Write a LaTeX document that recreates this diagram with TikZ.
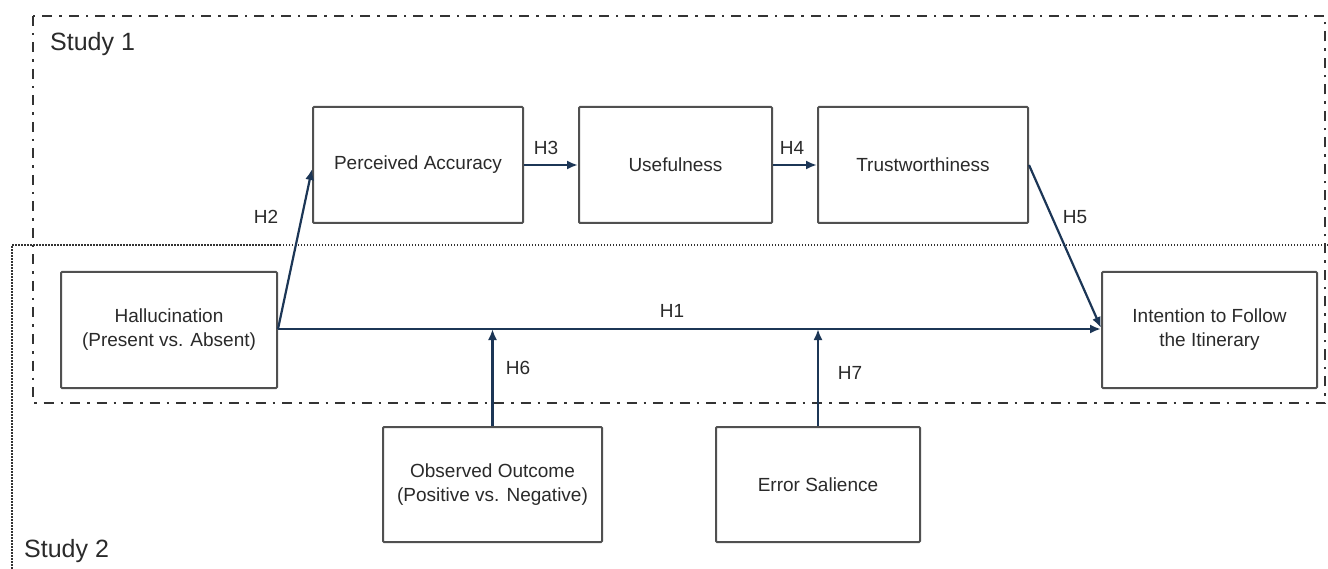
\documentclass[tikz,border=0pt]{standalone}
\usepackage{fontspec}
\setmainfont{Liberation Sans}
\usetikzlibrary{arrows.meta}
\definecolor{boxline}{HTML}{505050}
\definecolor{txt}{HTML}{2A2A2A}
\definecolor{arrowc}{HTML}{1C3656}
\definecolor{frame}{HTML}{333333}
\tikzset{
  varbox/.style={draw=boxline, line width=2pt, fill=white, rounded corners=1pt,
    inner sep=0pt, align=center, text=txt,
    font=\fontsize{19}{24}\selectfont},
  hyparrow/.style={draw=arrowc, line width=2.2pt, -{Latex[length=11pt,width=9pt]}},
  hyplabel/.style={text=txt, font=\fontsize{19}{22}\selectfont, inner sep=0pt},
  studylabel/.style={text=txt, font=\fontsize{25}{28}\selectfont, inner sep=0pt, anchor=west},
  frameone/.style={draw=frame, line width=2.8pt, dash pattern=on 10pt off 7pt on 2.5pt off 7pt},
  frametwo/.style={draw=frame, line width=2.4pt, dash pattern=on 1.5pt off 1.5pt}
}
\begin{document}
\begin{tikzpicture}[x=1pt,y=-1pt]
\useasboundingbox (0,0) rectangle (1328,569);

% Study frames
\draw[frametwo] (1340,245) -- (12,245) -- (12,585);
\draw[frameone] (33,16) rectangle (1325,403);
\node[studylabel] (s1) at (50,44) {Study 1};
\node[studylabel] (s2) at (24,551) {Study 2};

% Constructs
\node[varbox, minimum width=216pt, minimum height=116pt] (hal) at (169,330) {Hallucination\\(Present vs. Absent)};
\node[varbox, minimum width=210pt, minimum height=116pt] (pa) at (418,165) {Perceived Accuracy};
\node[varbox, minimum width=193pt, minimum height=116pt] (use) at (675.5,165) {Usefulness};
\node[varbox, minimum width=210pt, minimum height=116pt] (tw) at (923,165) {Trustworthiness};
\node[varbox, minimum width=215pt, minimum height=116pt] (int) at (1209.5,330) {Intention to Follow\\the Itinerary};
\node[varbox, minimum width=219pt, minimum height=115pt] (obs) at (492.5,484.5) {Observed Outcome\\(Positive vs. Negative)};
\node[varbox, minimum width=204pt, minimum height=115pt] (err) at (818,484.5) {Error Salience};

% Hypothesised paths
\draw[hyparrow] ([yshift=1pt]hal.east) -- ([yshift=1pt]int.west);
\draw[hyparrow] ([yshift=1pt]hal.east) -- ([yshift=-4pt]pa.west);
\draw[hyparrow] (pa.east) -- (use.west);
\draw[hyparrow] (use.east) -- (tw.west);
\draw[hyparrow] (tw.east) -- ([yshift=2pt]int.west);
\draw[hyparrow] (obs.north) -- ([yshift=1pt]obs.north |- hal.east);
\draw[hyparrow] (err.north) -- ([yshift=1pt]err.north |- hal.east);

% Hypothesis labels
\node[hyplabel] (h1) at (672,311) {H1};
\node[hyplabel] (h2) at (266,217) {H2};
\node[hyplabel] (h3) at (546,148) {H3};
\node[hyplabel] (h4) at (792,148) {H4};
\node[hyplabel] (h5) at (1075,217) {H5};
\node[hyplabel] (h6) at (518,368) {H6};
\node[hyplabel] (h7) at (850,373) {H7};
\end{tikzpicture}
\end{document}
